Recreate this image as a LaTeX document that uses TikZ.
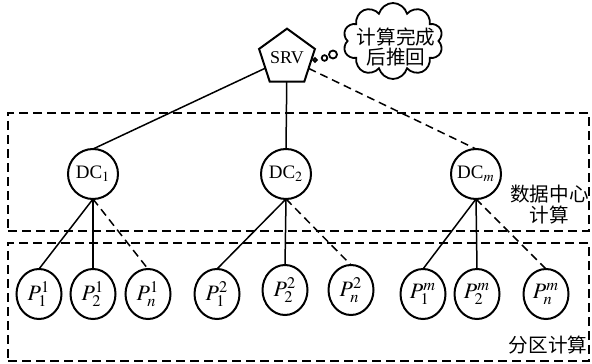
\documentclass[tikz,border=0pt]{standalone}
\usepackage{mathptmx}
\usepackage{fontspec}
\setmainfont{Liberation Serif}
\newfontfamily\cjk{Noto Sans CJK SC}
\usetikzlibrary{shapes.geometric,shapes.symbols,positioning}

\begin{document}
\begin{tikzpicture}[x=0.5pt,y=-0.5pt,node distance=60pt]
\tikzstyle{server}=[regular polygon,regular polygon sides=5,line width=1pt,
inner sep=0pt,outer sep=0pt,draw=black,minimum size=23pt,font=\fontsize{9}{10}\selectfont]
\tikzstyle{dc}=[circle,line width=1pt,inner sep=0pt,outer sep=0pt,
draw=black,minimum size=25pt,font=\fontsize{9.5}{10}\selectfont]
\tikzstyle{part}=[ellipse,line width=1pt,inner sep=0pt,outer sep=0pt,
draw=black,minimum width=22.5pt,minimum height=25pt,font=\fontsize{11}{12}\selectfont]
\tikzstyle{region}=[draw=black,line width=1pt,dash pattern=on 4.5pt off 2.5pt,inner sep=0pt]
\tikzstyle{bubble}=[circle,draw=black,line width=0.9pt,inner sep=0pt]
\tikzstyle{tag}=[font=\cjk\fontsize{9.8}{10.5}\selectfont,align=center,inner sep=0pt]
\tikzstyle{link}=[line width=0.75pt]
\tikzstyle{weak}=[line width=0.75pt,dash pattern=on 4pt off 2.5pt]

\useasboundingbox (0,0) rectangle (592,363);

\node[region,minimum width=290.5pt,minimum height=59pt] at (298.5,172) (dcbox) {};
\node[region,minimum width=290.5pt,minimum height=59pt] at (298.5,302) (pbox) {};

\node[server] at (287,58) (srv) {SRV};
\node[dc,below of =srv,xshift=-0.5pt,node distance=58pt](dc2) {DC$_2$} ;
\node[dc,left of =dc2,node distance=96.5pt](dc1) {DC$_1$} ;
\node[dc,right of =dc2,node distance=95pt](dcm) {DC$_m$} ;

\node[part,below of =dc1,xshift=-27pt](p11) {$P^{1}_{1}$} ;
\node[part,below of =dc1](p12) {$P^{1}_{2}$} ;
\node[part,below of =dc1,xshift=27.5pt](p1n) {$P^{1}_{n}$} ;
\node[part,below of =dc2,xshift=-34.5pt](p21) {$P^{2}_{1}$} ;
\node[part,below of =dc2,xshift=-0.5pt,yshift=2pt](p22) {$P^{2}_{2}$} ;
\node[part,below of =dc2,xshift=32.5pt,yshift=2pt](p2n) {$P^{2}_{n}$} ;
\node[part,below of =dcm,xshift=-26.5pt](pm1) {$P^{m}_{1}$} ;
\node[part,below of =dcm,xshift=0.5pt](pm2) {$P^{m}_{2}$} ;
\node[part,below of =dcm,xshift=35pt](pmn) {$P^{m}_{n}$} ;

\node[bubble,minimum size=1.8pt] at (315,60) (b1) {};
\node[bubble,minimum size=2.8pt] at (324.5,58) (b2) {};
\node[bubble,minimum size=4pt] at (333,54.5) (b3) {};
\node[cloud,cloud puffs=10,cloud ignores aspect,draw=black,line width=0.9pt,
minimum width=50pt,minimum height=38pt] at (393,41) (cloud) {};
\node[tag,font=\cjk\fontsize{9.8}{10}\selectfont] at (396,47) (note) {计算完成\\后推回};

\node[tag] at (549.5,205) (dctag) {数据中心\\计算};
\node[tag] at (548,345) (ptag) {分区计算};

\path[link] (srv) edge (dc1.north) ;
\path[link] (srv) edge (dc2.north) ;
\path[weak] (srv) edge (dcm.north) ;
\path[link] (dc1.south) edge (p11.north) ;
\path[link] (dc1.south) edge (p12.north) ;
\path[weak] (dc1.south) edge (p1n.north) ;
\path[link] (dc2.south) edge (p21.north) ;
\path[link] (dc2.south) edge (p22.north) ;
\path[weak] (dc2.south) edge (p2n.north) ;
\path[link] (dcm.south) edge (pm1.north) ;
\path[link] (dcm.south) edge (pm2.north) ;
\path[weak] (dcm.south) edge (pmn.north) ;

\end{tikzpicture}
\end{document}
